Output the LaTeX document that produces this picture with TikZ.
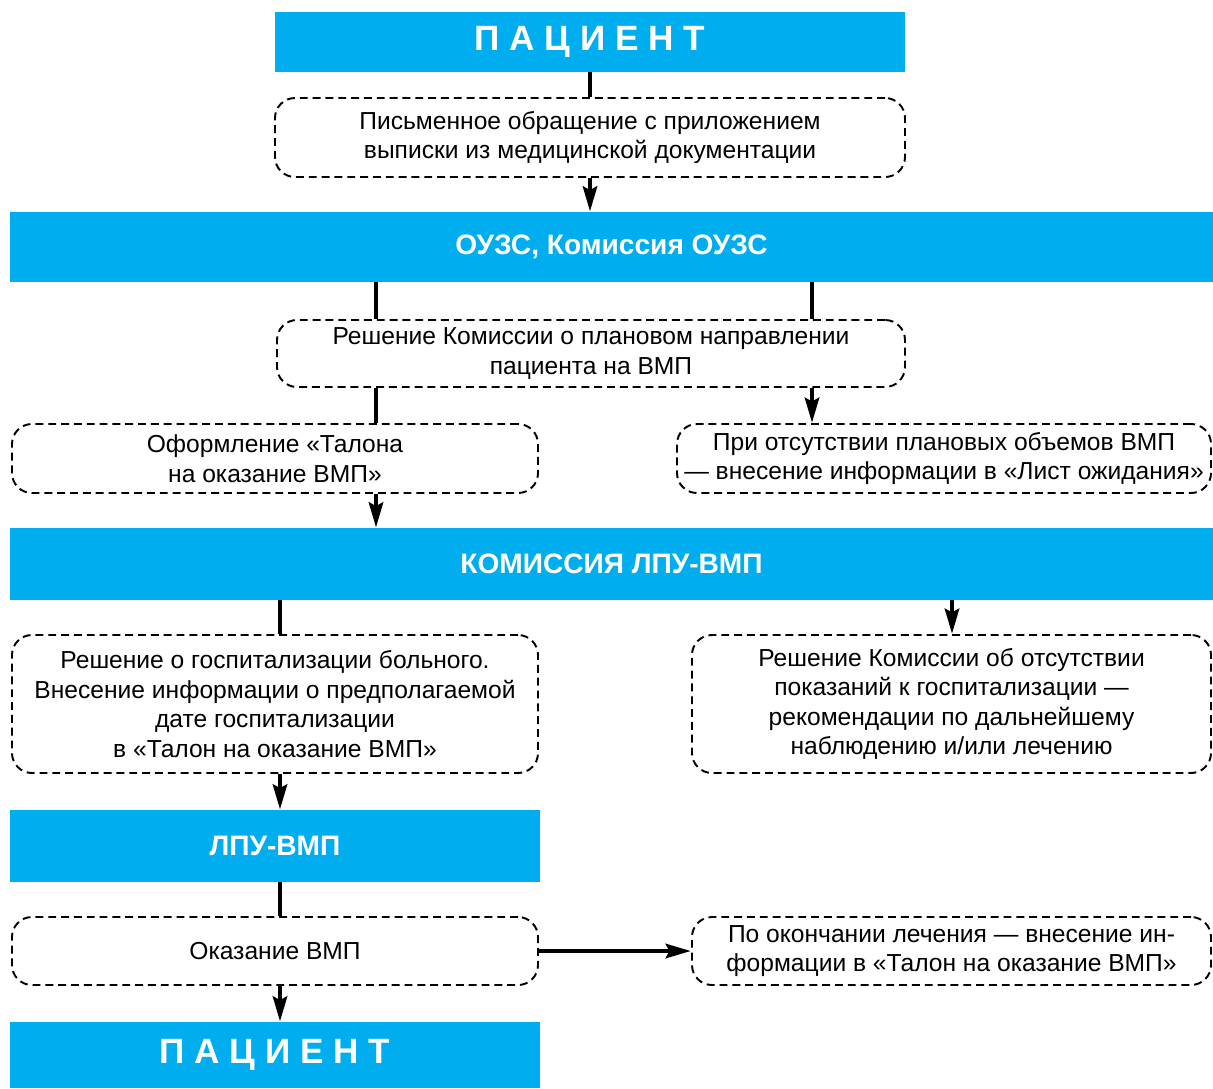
\documentclass[tikz,border=0pt]{standalone}
\usepackage{fontspec}
\setmainfont{Liberation Sans}
\usetikzlibrary{arrows.meta}
\definecolor{vmpblue}{RGB}{0,174,239}

\begin{document}
\begin{tikzpicture}[
  head/.style={fill=vmpblue, text=white, inner sep=0pt, font=\bfseries\fontsize{16}{19}\selectfont},
  bighead/.style={head, font=\bfseries\fontsize{20}{23}\selectfont},
  note/.style={draw, line width=1.1pt, dash pattern=on 4.5pt off 2.8pt, rounded corners=0.4cm,
    align=center, inner sep=0pt, font=\fontsize{14}{16.8}\selectfont},
  link/.style={line width=2.8pt},
  flow/.style={link, -{Stealth[length=5mm,width=2.8mm,inset=0.7mm]}},
]
\useasboundingbox (0,0) rectangle (24.26,-21.76);

\node[bighead, minimum width=12.6cm, minimum height=1.2cm] (pat1) at (11.8,-0.84) {П А Ц И Е Н Т};
\node[note, minimum width=12.6cm, minimum height=1.58cm] (req) at (11.8,-2.75) {Письменное обращение с приложением\\выписки из медицинской документации};
\node[head, minimum width=24.06cm, minimum height=1.4cm] (ouzs) at (12.23,-4.94) {ОУЗС, Комиссия ОУЗС};
\node[note, minimum width=12.56cm, minimum height=1.34cm] (dec) at (11.82,-7.07) {Решение Комиссии о плановом направлении\\пациента на ВМП};
\node[note, minimum width=10.52cm, minimum height=1.38cm] (talon) at (5.5,-9.17) {Оформление «Талона\\на оказание ВМП»};
\node[note, minimum width=10.68cm, minimum height=1.38cm] (wait) at (18.88,-9.17) {При отсутствии плановых объемов ВМП\\— внесение информации в «Лист ожидания»};
\node[head, minimum width=24.06cm, minimum height=1.44cm] (lpuk) at (12.23,-11.28) {КОМИССИЯ ЛПУ-ВМП};
\node[note, minimum width=10.52cm, minimum height=2.76cm] (hosp) at (5.5,-14.08) {Решение о госпитализации больного.\\Внесение информации о предполагаемой\\дате госпитализации\\в «Талон на оказание ВМП»};
\node[note, minimum width=10.38cm, minimum height=2.76cm] (refuse) at (19.03,-14.08) {Решение Комиссии об отсутствии\\показаний к госпитализации —\\рекомендации по дальнейшему\\наблюдению и/или лечению};
\node[head, minimum width=10.6cm, minimum height=1.44cm] (lpu) at (5.5,-16.92) {ЛПУ-ВМП};
\node[note, minimum width=10.52cm, minimum height=1.36cm] (care) at (5.5,-19.02) {Оказание ВМП};
\node[note, minimum width=10.38cm, minimum height=1.36cm] (fin) at (19.03,-19.02) {По окончании лечения — внесение ин-\\формации в «Талон на оказание ВМП»};
\node[bighead, minimum width=10.6cm, minimum height=1.32cm] (pat2) at (5.5,-21.1) {П А Ц И Е Н Т};

\coordinate (xa) at (7.52,0);
\coordinate (xb) at (16.24,0);
\coordinate (xc) at (5.6,0);
\coordinate (xd) at (19.04,0);

\path[draw,link] (pat1) -- (req);
\path[draw,flow] (req) -- (req |- ouzs.north);
\path[draw,link] (ouzs.south -| xa) -- (dec.north -| xa);
\path[draw,link] (ouzs.south -| xb) -- (dec.north -| xb);
\path[draw,link] (dec.south -| xa) -- (talon.north -| xa);
\path[draw,flow] (dec.south -| xb) -- (wait.north -| xb);
\path[draw,flow] (talon.south -| xa) -- (lpuk.north -| xa);
\path[draw,link] (lpuk.south -| xc) -- (hosp.north -| xc);
\path[draw,flow] (lpuk.south -| xd) -- (refuse.north -| xd);
\path[draw,flow] (hosp.south -| xc) -- (lpu.north -| xc);
\path[draw,link] (lpu.south -| xc) -- (care.north -| xc);
\path[draw,flow] (care.east) -- (fin.west);
\path[draw,flow] (care.south -| xc) -- (pat2.north -| xc);
\end{tikzpicture}
\end{document}
